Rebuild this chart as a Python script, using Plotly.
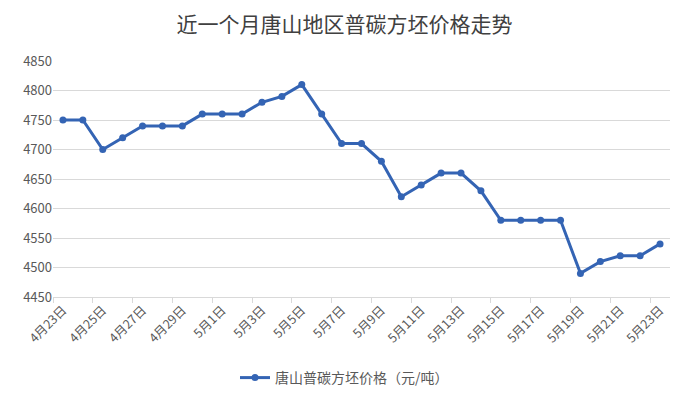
import plotly.graph_objects as go

dates = ["4月23日", "4月24日", "4月25日", "4月26日", "4月27日", "4月28日", "4月29日", "4月30日",
         "5月1日", "5月2日", "5月3日", "5月4日", "5月5日", "5月6日", "5月7日", "5月8日",
         "5月9日", "5月10日", "5月11日", "5月12日", "5月13日", "5月14日", "5月15日", "5月16日",
         "5月17日", "5月18日", "5月19日", "5月20日", "5月21日", "5月22日", "5月23日"]
prices = [4750, 4750, 4700, 4720, 4740, 4740, 4740, 4760,
          4760, 4760, 4780, 4790, 4810, 4760, 4710, 4710,
          4680, 4620, 4640, 4660, 4660, 4630, 4580, 4580,
          4580, 4580, 4490, 4510, 4520, 4520, 4540]
series_name = "唐山普碳方坯价格（元/吨）"
title_text = "近一个月唐山地区普碳方坯价格走势"
y_ticks = [4450, 4500, 4550, 4600, 4650, 4700, 4750, 4800, 4850]

idx = list(range(len(dates)))
label_idx = idx[::2]
label_txt = [dates[i] for i in label_idx]

FONT = "Noto Sans CJK SC, Microsoft YaHei, sans-serif"
COLOR = "#3464b4"

fig = go.Figure()
fig.add_trace(go.Scatter(
    x=idx, y=prices, mode="lines+markers", name=series_name,
    line=dict(color=COLOR, width=3),
    marker=dict(color=COLOR, size=7),
))

fig.update_layout(
    width=689, height=402,
    margin=dict(l=53, r=19, t=61, b=105),
    paper_bgcolor="white", plot_bgcolor="white",
    font=dict(family=FONT, color="#595959", size=13),
    title=dict(text=title_text, x=0.5, xref="container", xanchor="center",
               y=1 - 25 / 402, yref="container", yanchor="middle",
               font=dict(family=FONT, size=21, color="#404040")),
    showlegend=True,
    legend=dict(orientation="h", x=0.5, xref="container", xanchor="center",
                y=1 - 378 / 402, yref="container", yanchor="middle",
                font=dict(family=FONT, size=14, color="#595959")),
    xaxis=dict(
        range=[-0.5, 30.5], tickmode="array", tickvals=label_idx, ticktext=label_txt,
        tickangle=-45, ticks="", showgrid=False, zeroline=False, automargin=False,
        showline=True, linecolor="#d9d9d9", linewidth=1,
        tickfont=dict(family=FONT, size=12.5, color="#595959"),
        minor=dict(tick0=-0.5, dtick=2, ticks="outside", ticklen=5,
                   tickcolor="#d9d9d9", showgrid=False),
    ),
    yaxis=dict(
        range=[4450, 4850], tickmode="array", tickvals=y_ticks, automargin=False,
        showgrid=True, gridcolor="#d9d9d9", gridwidth=1, zeroline=False,
        showline=False, ticks="", tickfont=dict(family=FONT, size=13, color="#595959"),
    ),
)

fig.write_html("out.html", config={"displayModeBar": False},
               post_script="document.body.style.margin='0';")
